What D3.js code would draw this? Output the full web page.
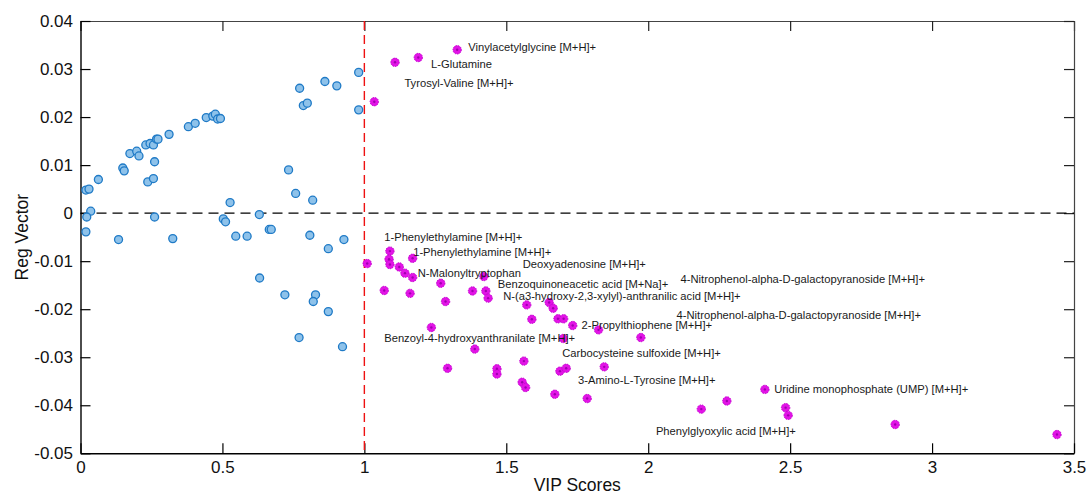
<!DOCTYPE html>
<html>
<head>
<meta charset="utf-8">
<script src="https://cdn.jsdelivr.net/npm/d3@7"></script>
<style>
  html, body { margin: 0; padding: 0; background: #fff; }
  svg { display: block; font-family: "Liberation Sans", Arial, Helvetica, sans-serif; }
</style>
</head>
<body>
<svg id="chart" width="1088" height="494"></svg>
<script>
// Metabolites below the VIP threshold
const minorVip = [0.019, 0.030, 0.036, 0.022, 0.063, 0.149, 0.154, 0.174, 0.198, 0.206,
  0.230, 0.245, 0.257, 0.268, 0.273, 0.237, 0.257, 0.261, 0.261, 0.312,
  0.380, 0.404, 0.443, 0.466, 0.475, 0.483, 0.493, 0.527, 0.503, 0.511,
  0.630, 0.733, 0.758, 0.818, 0.772, 0.785, 0.799, 0.861, 0.903, 0.980,
  0.980, 0.019, 0.134, 0.325, 0.547, 0.587, 0.665, 0.672, 0.631, 0.720,
  0.770, 0.808, 0.828, 0.820, 0.873, 0.873, 0.928, 0.923];
const minorReg = [0.0048, 0.0050, 0.0004, -0.0008, 0.0070, 0.0094, 0.0088, 0.0124, 0.0129, 0.0119,
  0.0142, 0.0145, 0.0142, 0.0154, 0.0154, 0.0065, 0.0072, 0.0107, -0.0008, 0.0164,
  0.0180, 0.0187, 0.0199, 0.0202, 0.0206, 0.0196, 0.0197, 0.0022, -0.0012, -0.0018,
  -0.0003, 0.0090, 0.0041, 0.0027, 0.0260, 0.0224, 0.0229, 0.0274, 0.0265, 0.0293,
  0.0215, -0.0039, -0.0055, -0.0053, -0.0048, -0.0048, -0.0034, -0.0034, -0.0135, -0.0170,
  -0.0259, -0.0046, -0.0170, -0.0184, -0.0074, -0.0205, -0.0055, -0.0278];

// Key metabolites (VIP > 1)
const keyVip = [1.327, 1.190, 1.108, 1.035, 1.010, 1.090, 1.087, 1.090, 1.123, 1.170,
  1.143, 1.170, 1.070, 1.161, 1.269, 1.286, 1.381, 1.421, 1.428, 1.436,
  1.572, 1.651, 1.665, 1.590, 1.682, 1.702, 1.734, 1.825, 1.974, 1.236,
  1.701, 1.389, 1.293, 1.467, 1.467, 1.562, 1.556, 1.568, 1.689, 1.711,
  1.845, 1.671, 1.785, 2.187, 2.277, 2.411, 2.484, 2.493, 2.870, 3.440];
const keyReg = [0.0340, 0.0324, 0.0314, 0.0232, -0.0105, -0.0079, -0.0096, -0.0107, -0.0112, -0.0094,
  -0.0125, -0.0134, -0.0161, -0.0167, -0.0146, -0.0184, -0.0162, -0.0132, -0.0162, -0.0177,
  -0.0191, -0.0186, -0.0198, -0.0221, -0.0220, -0.0220, -0.0234, -0.0243, -0.0259, -0.0238,
  -0.0261, -0.0283, -0.0323, -0.0324, -0.0335, -0.0308, -0.0352, -0.0363, -0.0329, -0.0323,
  -0.0320, -0.0377, -0.0386, -0.0408, -0.0391, -0.0367, -0.0405, -0.0421, -0.0440, -0.0461];

// Annotation text and its anchor (in axis units)
const labelText = [
  "Vinylacetylglycine [M+H]+", "L-Glutamine", "Tyrosyl-Valine [M+H]+",
  "1-Phenylethylamine [M+H]+", "1-Phenylethylamine [M+H]+", "Deoxyadenosine [M+H]+",
  "N-Malonyltryptophan", "Benzoquinoneacetic acid [M+Na]+",
  "4-Nitrophenol-alpha-D-galactopyranoside [M+H]+",
  "N-(a3-hydroxy-2,3-xylyl)-anthranilic acid [M+H]+",
  "4-Nitrophenol-alpha-D-galactopyranoside [M+H]+",
  "2-Propylthiophene [M+H]+", "Benzoyl-4-hydroxyanthranilate [M+H]+",
  "Carbocysteine sulfoxide [M+H]+", "3-Amino-L-Tyrosine [M+H]+",
  "Uridine monophosphate (UMP) [M+H]+", "Phenylglyoxylic acid [M+H]+"];
const labelVip = [1.366, 1.235, 1.141, 1.070, 1.172, 1.558, 1.188, 1.470, 2.114,
  1.489, 2.100, 1.765, 1.070, 1.697, 1.753, 2.444, 2.027];
const labelReg = [0.03465, 0.03104, 0.02715, -0.00504, -0.00804, -0.01066, -0.01253, -0.01476, -0.01366,
  -0.01726, -0.02128, -0.02336, -0.02607, -0.02919, -0.03475, -0.03669, -0.04537];

const xTicks = [0, 0.5, 1, 1.5, 2, 2.5, 3, 3.5];
const xTickLabels = ["0", "0.5", "1", "1.5", "2", "2.5", "3", "3.5"];
const yTicks = [-0.05, -0.04, -0.03, -0.02, -0.01, 0, 0.01, 0.02, 0.03, 0.04];
const yTickLabels = ["-0.05", "-0.04", "-0.03", "-0.02", "-0.01", "0", "0.01", "0.02", "0.03", "0.04"];
const vipThreshold = 1;

const svg = d3.select("#chart");
const plotLeft = 80.5, plotRight = 1074, plotTop = 21, plotBottom = 453.3;

const x = d3.scaleLinear().domain([0, 3.5]).range([plotLeft, plotRight]);
const y = d3.scaleLinear().domain([-0.05, 0.04]).range([plotBottom, plotTop]);

svg.append("rect").attr("width", 1088).attr("height", 494).attr("fill", "#fff");

// Frame: top and right edges with inward ticks
const topAxis = svg.append("g").attr("transform", `translate(0,${plotTop})`)
  .call(d3.axisTop(x).tickValues(xTicks).tickSizeInner(-10).tickSizeOuter(0).tickFormat(""));
const rightAxis = svg.append("g").attr("transform", `translate(${plotRight},0)`)
  .call(d3.axisRight(y).tickValues(yTicks).tickSizeInner(-10).tickSizeOuter(0).tickFormat(""));
[topAxis, rightAxis].forEach(g => {
  g.select(".domain").attr("stroke", "#444").attr("stroke-width", 1.2);
  g.selectAll(".tick line").attr("stroke", "#222").attr("stroke-width", 1.2);
});

// Bottom and left axes
const xAxis = svg.append("g").attr("transform", `translate(0,${plotBottom})`)
  .call(d3.axisBottom(x).tickValues(xTicks).tickSizeInner(-10).tickSizeOuter(0).tickPadding(8)
    .tickFormat((d, i) => xTickLabels[i]));
const yAxis = svg.append("g").attr("transform", `translate(${plotLeft},0)`)
  .call(d3.axisLeft(y).tickValues(yTicks).tickSizeInner(-10).tickSizeOuter(0).tickPadding(7.5)
    .tickFormat((d, i) => yTickLabels[i]));
[xAxis, yAxis].forEach(g => {
  g.select(".domain").attr("stroke", "#000").attr("stroke-width", 1.4);
  g.selectAll(".tick line").attr("stroke", "#000").attr("stroke-width", 1.2);
  g.selectAll(".tick text").attr("fill", "#111").style("font-size", "17px")
    .style("font-family", "'Liberation Sans', Arial, Helvetica, sans-serif");
});

// Reference lines
svg.append("line")
  .attr("x1", plotLeft).attr("x2", plotRight).attr("y1", y(0)).attr("y2", y(0))
  .attr("stroke", "#000").attr("stroke-width", 1.3).attr("stroke-dasharray", "10,6");
svg.append("line")
  .attr("x1", x(vipThreshold)).attr("x2", x(vipThreshold)).attr("y1", plotTop).attr("y2", plotBottom)
  .attr("stroke", "#ee1111").attr("stroke-width", 1.4).attr("stroke-dasharray", "9,5");

// Minor metabolites
svg.append("g").selectAll("circle").data(d3.range(minorVip.length)).join("circle")
  .attr("cx", i => x(minorVip[i])).attr("cy", i => y(minorReg[i])).attr("r", 4)
  .attr("fill", "#8ec2ea").attr("stroke", "#1f7ac6").attr("stroke-width", 1.3);

// Key metabolites
const keyG = svg.append("g");
keyG.selectAll("circle.outer").data(d3.range(keyVip.length)).join("circle")
  .attr("class", "outer")
  .attr("cx", i => x(keyVip[i])).attr("cy", i => y(keyReg[i])).attr("r", 4.2)
  .attr("fill", "#e214e6").attr("stroke", "#c400d0").attr("stroke-width", 1)
  .attr("stroke-dasharray", "1.5,1");
keyG.selectAll("circle.inner").data(d3.range(keyVip.length)).join("circle")
  .attr("class", "inner")
  .attr("cx", i => x(keyVip[i])).attr("cy", i => y(keyReg[i])).attr("r", 1.2)
  .attr("fill", "#a000b0");

// Annotations
svg.append("g").selectAll("text").data(d3.range(labelText.length)).join("text")
  .attr("x", i => x(labelVip[i])).attr("y", i => y(labelReg[i])).attr("dy", "0.35em")
  .attr("fill", "#1a1a1a").style("font-size", "11.2px")
  .text(i => labelText[i]);

// Axis titles
svg.append("text").attr("x", (plotLeft + plotRight) / 2).attr("y", 491)
  .attr("text-anchor", "middle").attr("fill", "#111").style("font-size", "17.5px")
  .text("VIP Scores");
svg.append("text").attr("transform", `translate(28,${(plotTop + plotBottom) / 2}) rotate(-90)`)
  .attr("text-anchor", "middle").attr("fill", "#111").style("font-size", "17.5px")
  .text("Reg Vector");
</script>
</body>
</html>
